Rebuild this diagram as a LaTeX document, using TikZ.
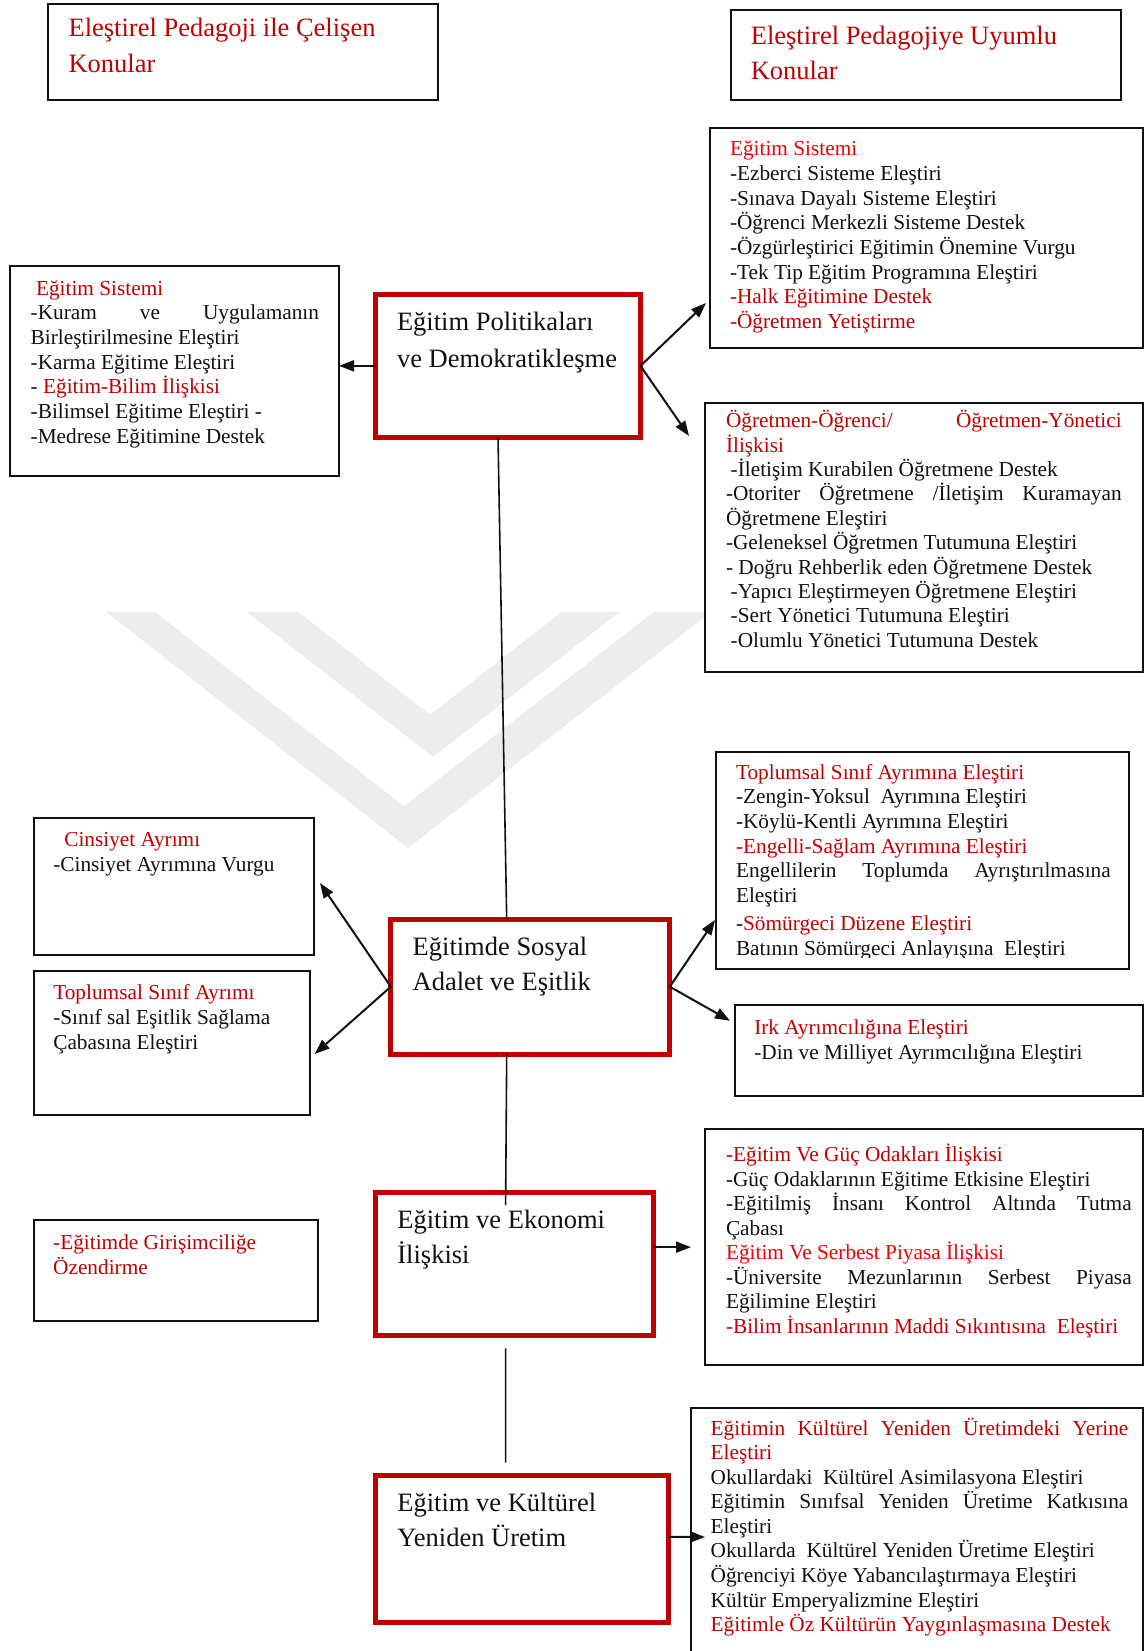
\documentclass[tikz,border=0pt]{standalone}
\usepackage{fontspec}
\setmainfont{Liberation Serif}
\usetikzlibrary{arrows.meta,calc}
\definecolor{dred}{HTML}{C00000}
\definecolor{bred}{HTML}{F40000}
\definecolor{ink}{HTML}{111111}
\definecolor{wmark}{HTML}{EDEDED}
% font size / line distance in pt
\newcommand\fs[2]{\fontsize{#1pt}{#2pt}\selectfont}
% a line stretched to a given width (justified line)
\newcommand\jl[2]{\makebox[#1pt][s]{#2}}
\newcommand\rd[1]{\textcolor{dred}{#1}}
\newcommand\br[1]{\textcolor{bred}{#1}}
\newcommand\ind[1]{\hspace*{#1pt}}

\begin{document}
\begin{tikzpicture}[x=1pt,y=-1pt,
  frame/.style={draw=ink,fill=white,line width=2pt,inner sep=0pt,outer sep=0pt,anchor=north west},
  redframe/.style={draw=dred,fill=white,line width=5pt,inner sep=0pt,outer sep=0pt,anchor=north west},
  txt/.style={inner sep=0pt,outer sep=0pt,anchor=base west,text=ink},
  link/.style={draw=ink,line width=2pt},
  thin link/.style={draw=ink,line width=1.6pt},
  arr/.style={link,-{Triangle[length=15pt,width=11pt]}},
]
\path[use as bounding box] (0,0) rectangle (1144,1651);
\clip (0,0) rectangle (1144,1651);

% ---------- faint background chevrons ----------
\fill[wmark] (105.8,611.7) -- (154.6,611.7) -- (404,806) -- (654,611.7) -- (711.5,611.7) -- (408,848) -- cycle;
\fill[wmark] (246.5,611.7) -- (298,611.7) -- (430,714.7) -- (562,611.7) -- (620,611.7) -- (433,757) -- cycle;

% ---------- frames ----------
\node[frame,minimum width=389.5pt,minimum height=96.3pt] (tl) at (48.4,3.7) {};
\node[frame,minimum width=390.2pt,minimum height=89.7pt] (tr) at (730.6,10.3) {};
\node[frame,minimum width=433pt,minimum height=220.3pt] (esr) at (710,127.7) {};
\node[frame,minimum width=328.7pt,minimum height=210pt] (lsys) at (10.3,266) {};
\node[frame,minimum width=438pt,minimum height=268.7pt] (ogr) at (705,403) {};
\node[frame,minimum width=413pt,minimum height=217.3pt] (tsae) at (716,751.7) {};
\node[frame,minimum width=280.3pt,minimum height=136.7pt] (cins) at (33.7,818.3) {};
\node[frame,minimum width=276pt,minimum height=144pt] (tsa) at (33.7,971) {};
\node[frame,minimum width=408pt,minimum height=90.6pt] (irk) at (735,1005) {};
\node[frame,minimum width=438pt,minimum height=235.7pt] (guc) at (705,1129.3) {};
\node[frame,minimum width=283.3pt,minimum height=100.4pt] (gir) at (34.3,1220.3) {};
\node[frame,minimum width=452pt,minimum height=260pt] (kul) at (691,1407.7) {};

\node[redframe,minimum width=265pt,minimum height=143.3pt] (pol) at (375.5,294.2) {};
\node[redframe,minimum width=279pt,minimum height=135pt] (sos) at (390.8,919.2) {};
\node[redframe,minimum width=277.6pt,minimum height=143.3pt] (eko) at (375.7,1192.5) {};
\node[redframe,minimum width=292.8pt,minimum height=147.3pt] (kulr) at (375.7,1475.2) {};

% ---------- titles ----------
\node[txt] (tl-t) at (68.6,36.7) {\parbox[t]{400pt}{\fs{26.5}{36}\rd{Eleştirel Pedagoji ile Çelişen}\\\rd{Konular}}};
\node[txt] (tr-t) at (750.8,45) {\parbox[t]{400pt}{\fs{26.5}{35}\rd{Eleştirel Pedagojiye Uyumlu}\\\rd{Konular}}};

% ---------- main topics ----------
\node[txt] (pol-t) at (397,330) {\parbox[t]{300pt}{\fs{26.5}{37.3}Eğitim Politikaları\\ve Demokratikleşme}};
\node[txt] (sos-t) at (412.7,955) {\parbox[t]{300pt}{\fs{26.5}{35.7}Eğitimde Sosyal\\Adalet ve Eşitlik}};
\node[txt] (eko-t) at (397.4,1228.3) {\parbox[t]{300pt}{\fs{26.5}{35}Eğitim ve Ekonomi\\İlişkisi}};
\node[txt] (kulr-t) at (397.4,1511.7) {\parbox[t]{300pt}{\fs{26.5}{35}Eğitim ve Kültürel\\Yeniden Üretim}};

% ---------- detail texts ----------
\node[txt] (esr-t) at (730,156) {\parbox[t]{420pt}{\fs{21.3}{24.6}%
\br{Eğitim Sistemi}\\
-Ezberci Sisteme Eleştiri\\
-Sınava Dayalı Sisteme Eleştiri\\
-Öğrenci Merkezli Sisteme Destek\\
-Özgürleştirici Eğitimin Önemine Vurgu\\
-Tek Tip Eğitim Programına Eleştiri\\
\rd{-Halk Eğitimine Destek}\\
\rd{-Öğretmen Yetiştirme}}};

\node[txt] (lsys-t) at (30.7,295) {\parbox[t]{320pt}{\fs{21.3}{24.7}%
\ind{5.3}\rd{Eğitim Sistemi}\\
\jl{288.3}{-Kuram ve Uygulamanın}\\
Birleştirilmesine Eleştiri\\
-Karma Eğitime Eleştiri\\
- \rd{Eğitim-Bilim İlişkisi}\\
-Bilimsel Eğitime Eleştiri -\\
-Medrese Eğitimine Destek}};

\node[txt] (ogr-t) at (726,427.7) {\parbox[t]{420pt}{\fs{21.3}{24.4}%
\rd{\jl{395.7}{Öğretmen-Öğrenci/ Öğretmen-Yönetici}}\\
\rd{İlişkisi}\\
\ind{4.7}-İletişim Kurabilen Öğretmene Destek\\
\jl{395.7}{-Otoriter Öğretmene /İletişim Kuramayan}\\
Öğretmene Eleştiri\\
-Geleneksel Öğretmen Tutumuna Eleştiri\\
- Doğru Rehberlik eden Öğretmene Destek\\
\ind{4.7}-Yapıcı Eleştirmeyen Öğretmene Eleştiri\\
\ind{4.7}-Sert Yönetici Tutumuna Eleştiri\\
\ind{4.7}-Olumlu Yönetici Tutumuna Destek}};

\begin{scope}
\clip (716,745) rectangle (1129,957.5);
\node[txt] (tsae-t) at (736,779.3) {\parbox[t]{400pt}{\fs{21.3}{24.6}%
\rd{Toplumsal Sınıf Ayrımına Eleştiri}\\
-Zengin-Yoksul\ \ Ayrımına Eleştiri\\
-Köylü-Kentli Ayrımına Eleştiri\\
\rd{-Engelli-Sağlam Ayrımına Eleştiri}\\
\jl{374.7}{Engellilerin Toplumda Ayrıştırılmasına}\\
Eleştiri\\[3.1pt]
-\rd{Sömürgeci Düzene Eleştiri}\\[0.4pt]
Batının Sömürgeci Anlayışına\ \ Eleştiri}};
\end{scope}

\node[txt] (cins-t) at (53.3,846.7) {\parbox[t]{270pt}{\fs{21.3}{25}%
\ind{11}\rd{Cinsiyet Ayrımı}\\
-Cinsiyet Ayrımına Vurgu}};

\node[txt] (tsa-t) at (53.3,999.3) {\parbox[t]{270pt}{\fs{21.3}{25}%
\rd{Toplumsal Sınıf Ayrımı}\\
-Sınıf sal Eşitlik Sağlama\\
Çabasına Eleştiri}};

\node[txt] (irk-t) at (754.3,1034.4) {\parbox[t]{400pt}{\fs{21.3}{25.3}%
\rd{Irk Ayrımcılığına Eleştiri}\\
-Din ve Milliyet Ayrımcılığına Eleştiri}};

\node[txt] (guc-t) at (726,1161.7) {\parbox[t]{420pt}{\fs{21.3}{24.5}%
\rd{-Eğitim Ve Güç Odakları İlişkisi}\\
-Güç Odaklarının Eğitime Etkisine Eleştiri\\
\jl{405.7}{-Eğitilmiş İnsanı Kontrol Altında Tutma}\\
Çabası\\
\br{Eğitim Ve Serbest Piyasa İlişkisi}\\
\jl{405.7}{-Üniversite Mezunlarının Serbest Piyasa}\\
Eğilimine Eleştiri\\
\rd{-Bilim İnsanlarının Maddi Sıkıntısına\ \ Eleştiri}}};

\node[txt] (gir-t) at (53.2,1249) {\parbox[t]{270pt}{\fs{21.3}{25.5}%
\rd{-Eğitimde Girişimciliğe}\\
\rd{Özendirme}}};

\node[txt] (kul-t) at (710.7,1435) {\parbox[t]{430pt}{\fs{21.3}{24.59}%
\rd{\jl{417.6}{Eğitimin Kültürel Yeniden Üretimdeki Yerine}}\\
\rd{Eleştiri}\\
Okullardaki\ \ Kültürel Asimilasyona Eleştiri\\
\jl{417.6}{Eğitimin Sınıfsal Yeniden Üretime Katkısına}\\
Eleştiri\\
Okullarda\ \ Kültürel Yeniden Üretime Eleştiri\\
Öğrenciyi Köye Yabancılaştırmaya Eleştiri\\
Kültür Emperyalizmine Eleştiri\\
\rd{Eğitimle Öz Kültürün Yaygınlaşmasına Destek}}};

% ---------- connectors ----------
\draw[arr] (pol.west) -- (pol.west -| lsys.east);
\draw[arr] (pol.east) -- ($(esr.north west)+(-4,175.3)$);
\draw[arr] (pol.east) -- ($(ogr.north west)+(-16,33)$);
\draw[thin link] ($(pol.south)+(-10,0)$) -- ($(sos.north)+(-23.6,0)$);

\draw[arr] (sos.west) -- ($(cins.east)+(6,-3.6)$);
\draw[arr] (sos.west) -- ($(tsa.east)+(5,11)$);
\draw[arr] (sos.east) -- ($(tsae.south west)+(-1,-49)$);
\draw[arr] (sos.east) -- ($(irk.north west)+(-5,15.7)$);
\draw[thin link] ($(sos.south)+(-23.6,0)$) -- ($(eko.north)+(-8.9,12.5)$);

\draw[arr,shorten >=14pt] (eko.east |- guc.west) -- (guc.west);
\draw[thin link] ($(eko.south)+(-8.9,12.5)$) -- ($(kulr.north)+(-16.5,-12.5)$);
\draw[arr] ($(kulr.east)+(0,-12)$) -- ($(kul.west)+(14,-0.7)$);
\end{tikzpicture}
\end{document}
